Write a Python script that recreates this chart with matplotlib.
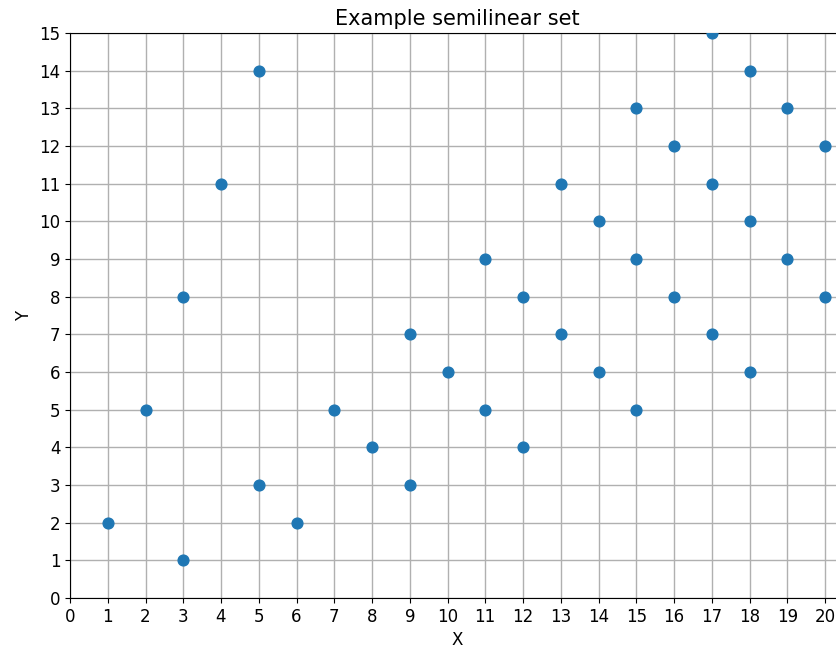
import matplotlib
matplotlib.use("Agg")
import matplotlib.pyplot as plt

x = [1, 2, 3, 3, 4, 5, 5, 6, 7, 8, 9, 9, 10, 11, 11, 12, 12, 13, 13, 14, 14,
     15, 15, 15, 16, 16, 17, 17, 17, 18, 18, 18, 19, 19, 20, 20]
y = [2, 5, 8, 1, 11, 14, 3, 2, 5, 4, 7, 3, 6, 9, 5, 8, 4, 11, 7, 10, 6,
     13, 9, 5, 12, 8, 15, 11, 7, 14, 10, 6, 13, 9, 12, 8]
xticks = list(range(0, 21))
yticks = list(range(0, 16))

fig = plt.figure(figsize=(8.36, 6.5), dpi=100)
unit = (825 - 70) / 20
right = 70 + 20.5 * unit
ax = fig.add_axes([70/836, 1-598/650, (right-70)/836, (598-33)/650])
ax.scatter(x, y, s=60, color="#1f77b4", zorder=3)
ax.set_xlim(0, 20.5)
ax.set_ylim(0, 15)
ax.set_xticks(xticks)
ax.set_yticks(yticks)
ax.tick_params(labelsize=12)
ax.grid(True, color="#b0b0b0", linewidth=1)
ax.set_axisbelow(True)
ax.set_xlabel("X", fontsize=12)
ax.set_ylabel("Y", fontsize=12)
ax.set_title("Example semilinear set", fontsize=15)
fig.savefig("out.png", dpi=100)
